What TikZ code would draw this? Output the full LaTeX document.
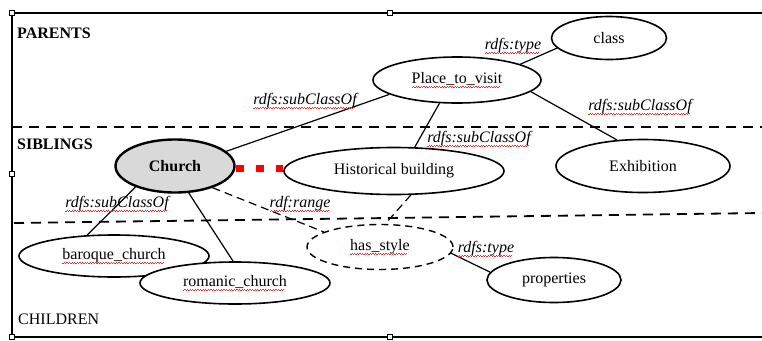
\documentclass[tikz,border=0pt]{standalone}
\usepackage{fontspec}
\setmainfont{Liberation Serif}
\usetikzlibrary{shapes.geometric}
% red wavy underline under a word
\newsavebox\spellbox
\newcommand\spell[1]{\sbox\spellbox{#1}\rlap{\usebox\spellbox}%
	\textcolor{red!85}{\hbox to \wd\spellbox{\leaders\hbox{\rule[-3.4pt]{1.3pt}{0.5pt}\rule[-2.3pt]{1.3pt}{0.5pt}}\hfill}}}

\tikzset{
  concept/.style={ellipse, draw, line width=1.6pt, fill=white, inner sep=0pt, font=\fontsize{16}{19}\selectfont},
  relname/.style={inner sep=0pt, font=\fontsize{16}{19}\selectfont\itshape},
  zonename/.style={anchor=west, inner sep=0pt, font=\fontsize{16}{19}\selectfont},
  link/.style={line width=1.2pt},
  dashlink/.style={line width=1.2pt, dash pattern=on 8pt off 5pt},
  zone/.style={line width=1.8pt, dash pattern=on 10pt off 7pt},
  handle/.style={draw, fill=white, line width=0.5pt}
}

\begin{document}
\begin{tikzpicture}[x=1pt, y=-1pt]
	\useasboundingbox (0,0) rectangle (762,340);
	
	%%%%% FRAME %%%%%
	\draw[line width=2pt] (762,13) -| (12,337) -- (762,337);
	\foreach \p in {(12,13),(390,13),(12,174),(12,337),(390,337)}
		\draw[handle] \p ++(-2.5,-2.5) rectangle ++(5,5);
	
	\draw[zone] (12,127) -- (762,127);
	\draw[zone] (14,223) -- (762,213);
	
	\node[zonename, font=\fontsize{16}{19}\selectfont\bfseries] (parents) at (17,33) {PARENTS};
	\node[zonename, font=\fontsize{16}{19}\selectfont\bfseries] (siblings) at (17,144) {SIBLINGS};
	\node[zonename] (children) at (18,319) {CHILDREN};
	
	%%%%% CONCEPTS %%%%%
	\node[concept, minimum width=115pt, minimum height=43pt] (class) at (609,38) {class};
	\node[concept, minimum width=168pt, minimum height=46pt] (place) at (457,80) {\spell{Place\_to\_visit}};
	\node[concept, minimum width=174pt, minimum height=53pt] (exhib) at (643,166) {Exhibition};
	\node[concept, minimum width=119pt, minimum height=53pt, line width=2.4pt, fill=black!15,
		font=\fontsize{16}{19}\selectfont\bfseries] (church) at (175,166) {Church};
	\node[concept, minimum width=220pt, minimum height=47pt] (hist) at (394,171) {Historical building};
	\node[concept, minimum width=146pt, minimum height=45pt, line width=1.4pt,
		dash pattern=on 7pt off 5pt] (style) at (380,247) {\spell{has\_style}};
	\node[concept, minimum width=134pt, minimum height=45pt] (props) at (554,280) {properties};
	\node[concept, minimum width=190pt, minimum height=42pt] (baroque) at (114,256) {\spell{baroque\_church}};
	
	%%%%% LINKS %%%%%
	\draw[link] (church.16) -- (place.192);
	\draw[link] (place.14) -- (class.191);
	\draw[link] (place.-9) -- (exhib.135);
	\draw[link] (place.233) -- (hist.49);
	\draw[link] (church.208) -- (baroque.142);
	\draw[dashlink] (church.-30) -- (style.165);
	\draw[dashlink] (hist.-55) -- (style.77);
	\draw[link] (style.-5) -- (props.173);
	\draw[red, line width=7pt, dash pattern=on 8pt off 12pt]
		([yshift=-2pt]church.east) -- ([yshift=-2pt]church.east -| hist.west);
	
	\node[concept, minimum width=190pt, minimum height=42pt] (romanic) at (235,283) {\spell{romanic\_church}};
	\draw[link] (church.-63) -- (romanic.95);
	
	\node[relname] (sub1) at (305,101) {\spell{rdfs:subClassOf}};
	\node[relname] (type1) at (513,46) {\spell{rdfs:type}};
	\node[relname] (sub2) at (640,107) {\spell{rdfs:subClassOf}};
	\node[relname] (sub3) at (479,139) {\spell{rdfs:subClassOf}};
	\node[relname] (sub4) at (117,204) {\spell{rdfs:subClassOf}};
	\node[relname] (range) at (300,204) {\spell{rdf:range}};
	\node[relname] (type2) at (486,249) {\spell{rdfs:type}};
\end{tikzpicture}
\end{document}
